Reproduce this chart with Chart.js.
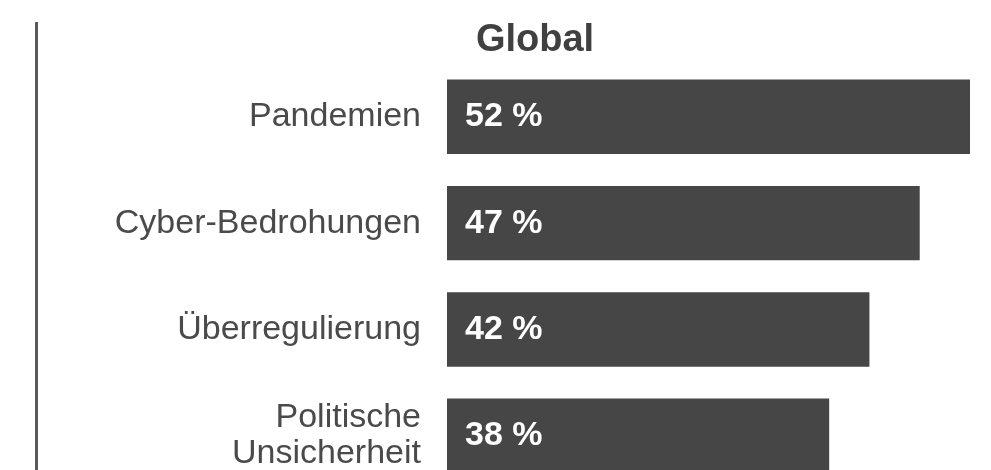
<!DOCTYPE html>
<html>
<head>
<meta charset="utf-8">
<script src="https://cdn.jsdelivr.net/npm/chart.js@4"></script>
<style>
	html, body { margin: 0; padding: 0; background: #fff; overflow: hidden; }
	#wrap { position: relative; width: 991px; height: 489px; }
	#rule { position: absolute; left: 35px; top: 22px; width: 3px; height: 470px; background: #5a5a5a; }
</style>
</head>
<body>
<div id="wrap">
	<div id="rule"></div>
	<canvas id="risks"></canvas>
</div>
<script>
const labels = ['Pandemien', 'Cyber-Bedrohungen', 'Überregulierung', ['Politische', 'Unsicherheit']];
const shares = [52, 47, 42, 38];
const valueLabels = ['52 %', '47 %', '42 %', '38 %'];

const FONT = "'Liberation Sans', Arial, Helvetica, sans-serif";

// white value text at the start of each bar
const barText = {
	id: 'barText',
	afterDatasetsDraw(chart) {
		const ctx = chart.ctx;
		const meta = chart.getDatasetMeta(0);
		ctx.save();
		ctx.fillStyle = '#ffffff';
		ctx.font = 'bold 34px ' + FONT;
		ctx.textAlign = 'left';
		ctx.textBaseline = 'middle';
		meta.data.forEach((bar, i) => {
			ctx.fillText(valueLabels[i], bar.base + 18, bar.y);
		});
		ctx.restore();
	}
};

const data_risks = {
	labels: labels,
	datasets: [
		{
			label: 'Global',
			data: shares,
			borderWidth: 0,
			backgroundColor: '#464646',
			barPercentage: 0.7,
			categoryPercentage: 1.0,
		},
	]
};

const config_risks = {
	type: 'bar',
	data: data_risks,
	plugins: [barText],
	options: {
		indexAxis: 'y',
		responsive: true,
		maintainAspectRatio: false,
		animation: false,
		layout: {
			padding: { left: 100, right: 21, top: 0, bottom: 0 }
		},
		plugins: {
			legend: { display: false },
			tooltip: { enabled: false },
			title: {
				display: true,
				text: 'Global',
				color: '#404040',
				font: { family: FONT, size: 38, weight: 'bold', lineHeight: 1.2 },
				padding: { top: 18, bottom: 0 }
			}
		},
		scales: {
			x: {
				display: false,
				min: 0,
				max: 52,
			},
			y: {
				grid: { display: false, drawTicks: false },
				border: { display: false },
				ticks: {
					color: '#4a4a4a',
					padding: 26,
					font: { family: FONT, size: 34, lineHeight: 1.05 }
				},
				afterFit(scale) {
					scale.width = 347;
					// labels sit inside their bands, no extra room needed
					scale.paddingTop = 0;
					scale.paddingBottom = 0;
				}
			}
		}
	},
};

const risks = new Chart(document.getElementById('risks'), config_risks);
</script>
</body>
</html>
